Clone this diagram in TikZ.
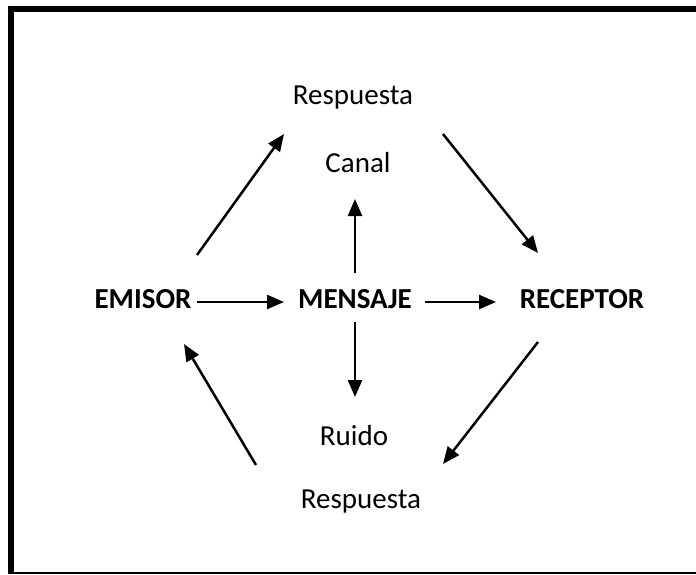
\documentclass[tikz,border=0pt]{standalone}
\usepackage{fontspec}
\setmainfont{Carlito}
\usetikzlibrary{arrows.meta,positioning}

\tikzset{
    lbl/.style={inner sep=0pt, font=\fontsize{29}{34}\selectfont},
    actor/.style={lbl, font=\fontsize{29}{34}\selectfont\bfseries},
    arr/.style={line width=2.5pt, -{Triangle[length=17pt,width=14pt]}}
}

\begin{document}
\begin{tikzpicture}[x=1pt,y=-1pt]
    \useasboundingbox (0,0) rectangle (696,574);

    % Frame (right side cut off)
    \draw[line width=6pt] (11,574) -- (11,9) -- (696,9);
    \draw[line width=2pt] (8,573) -- (696,573);

    % Actors
    \node[actor] (emisor) at (143,299) {EMISOR};
    \node[actor] (mensaje) at (355,299) {MENSAJE};
    \node[actor] (receptor) at (582,299) {RECEPTOR};

    % Other labels
    \node[lbl] (resp1) at (353,98) {Respuesta};
    \node[lbl] (canal) at (358,163) {Canal};
    \node[lbl] (ruido) at (354,436) {Ruido};
    \node[lbl] (resp2) at (361,502) {Respuesta};

    % Arrow ends
    \coordinate (em-out) at (197,302);
    \coordinate (me-in) at (284,302);
    \coordinate (me-out) at (425,302);
    \coordinate (re-in) at (496,302);
    \coordinate (me-up) at (355,273);
    \coordinate (ca-in) at (355,199);
    \coordinate (me-down) at (355,322);
    \coordinate (ru-in) at (355,397);
    \coordinate (em-up) at (197,255);
    \coordinate (r1-in) at (284,134);
    \coordinate (r1-out) at (443,134);
    \coordinate (re-up) at (538,253);
    \coordinate (re-down) at (538,342);
    \coordinate (r2-in) at (443,464);
    \coordinate (r2-out) at (256,465);
    \coordinate (em-down) at (184,344);

    % Connectors
    \draw[arr] (em-out) -- (me-in);
    \draw[arr] (me-out) -- (re-in);
    \draw[arr] (me-up) -- (ca-in);
    \draw[arr] (me-down) -- (ru-in);
    \draw[arr] (em-up) -- (r1-in);
    \draw[arr] (r1-out) -- (re-up);
    \draw[arr] (re-down) -- (r2-in);
    \draw[arr] (r2-out) -- (em-down);
\end{tikzpicture}
\end{document}
